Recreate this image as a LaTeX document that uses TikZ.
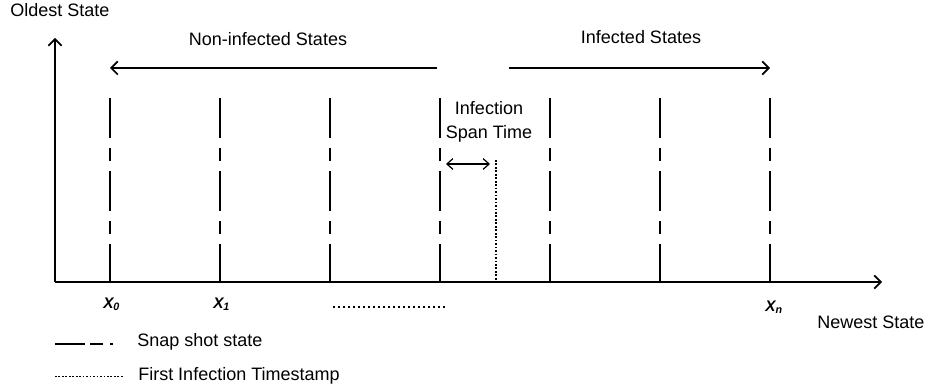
\documentclass[tikz,border=0pt]{standalone}
\usepackage{fontspec}
\setmainfont{Liberation Sans}
\usetikzlibrary{arrows.meta}
\begin{document}
\begin{tikzpicture}[x=0.75pt, y=-0.75pt, line join=round, >={Straight Barb[length=5pt,width=10pt]},
    lbl/.style={font=\fontsize{13.5}{16}\selectfont, inner sep=0pt},
    xlbl/.style={font=\fontsize{11.5}{13}\selectfont\bfseries\itshape, inner sep=0pt},
    snap/.style={line width=1.2pt, dash pattern=on 30pt off 7.5pt on 9.75pt off 7.5pt},
    stamp/.style={line width=1.2pt, dash pattern=on 1.3pt off 1.3pt}]
    \useasboundingbox (0,0) rectangle (929,391);
    \coordinate (origin) at (55,282);
    \coordinate (ytop) at (55,38);
    \coordinate (xend) at (882,282);
    \draw[->, line width=1.2pt] (origin) -- (ytop);
    \draw[->, line width=1.2pt] (origin) -- (xend);
    \foreach \i in {1,...,7} {
        \coordinate (top\i) at (110*\i,98);
        \coordinate (bot\i) at (110*\i,282);
        \draw[snap] (top\i) -- (bot\i);
    }
    \coordinate (nonstart) at (437,68);
    \coordinate (infstart) at (509,68);
    \draw[->, line width=1.2pt] (nonstart) -- (nonstart -| top1);
    \draw[->, line width=1.2pt] (infstart) -- (infstart -| top7);
    \coordinate (stamptop) at (496,160);
    \coordinate (stampbot) at (496,282);
    \draw[stamp] (stamptop) -- (stampbot);
    \coordinate (spanL) at (446,164);
    \coordinate (spanR) at (490,164);
    \draw[<->, line width=0.9pt, >={Straight Barb[length=4.5pt,width=8pt]}] (spanL) -- (spanR);
    \node[lbl, anchor=base west] (oldest) at (10,16.7) {Oldest State};
    \node[lbl, anchor=base] (noninf) at (268,45.7) {Non-infected States};
    \node[lbl, anchor=base] (inf) at (641,43.3) {Infected States};
    \node[lbl, anchor=base] (span1) at (489,114.3) {Infection};
    \node[lbl, anchor=base] (span2) at (489,138.3) {Span Time};
    \node[lbl, anchor=base west] (newest) at (817,328.3) {Newest State};
    \node[xlbl, anchor=base west] (x0) at (103,308.3) {X\textsubscript{0}};
    \node[xlbl, anchor=base west] (x1) at (213,308.3) {X\textsubscript{1}};
    \node[xlbl, anchor=base west] (xn) at (765,311.5) {X\textsubscript{n}};
    \coordinate (dotsL) at (333,307);
    \coordinate (dotsR) at (448,307);
    \draw[line width=1.2pt, dash pattern=on 1.5pt off 2.25pt] (dotsL) -- (dotsR);
    \coordinate (legA) at (55,344);
    \coordinate (legB) at (113,344);
    \draw[line width=1.2pt, dash pattern=on 22.5pt off 3.75pt on 9.75pt off 5.25pt on 2.25pt off 10pt] (legA) -- (legB);
    \node[lbl, anchor=base west] (legsnap) at (137,346.7) {Snap shot state};
    \coordinate (legC) at (55,376.7);
    \coordinate (legD) at (123,376.7);
    \draw[stamp] (legC) -- (legD);
    \node[lbl, anchor=base west] (legstamp) at (138,381) {First Infection Timestamp};
\end{tikzpicture}
\end{document}
